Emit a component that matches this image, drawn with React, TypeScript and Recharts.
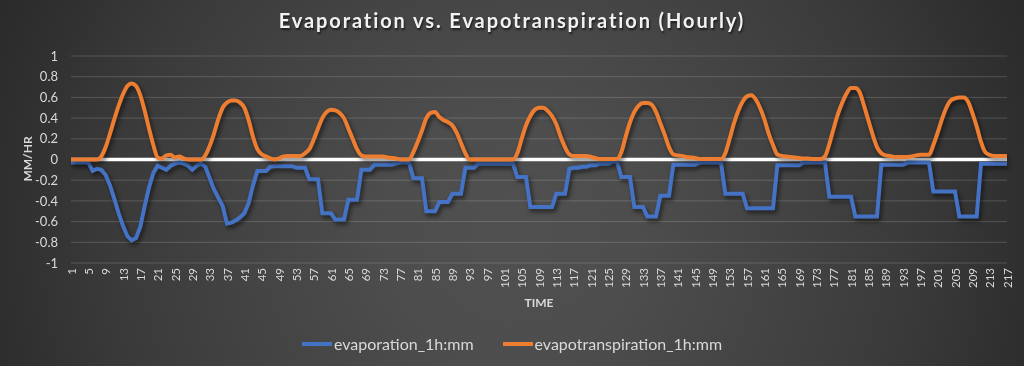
import { LineChart, Line, XAxis, YAxis, CartesianGrid, ReferenceLine } from "recharts";

// hourly steps 1..217
const hours = Array.from({ length: 217 }, (_, i) => String(i + 1));

// evaporation_1h:mm (plotted negative)
const evaporation = [
  -0.03, -0.03, -0.03, -0.03, -0.03, -0.11, -0.09, -0.1, -0.15, -0.25,
  -0.38, -0.52, -0.64, -0.74, -0.78, -0.76, -0.65, -0.45, -0.27, -0.13,
  -0.06, -0.08, -0.1, -0.06, -0.04, -0.03, -0.04, -0.06, -0.1, -0.06,
  -0.04, -0.07, -0.18, -0.29, -0.37, -0.45, -0.62, -0.61, -0.59, -0.56,
  -0.52, -0.42, -0.25, -0.11, -0.11, -0.11, -0.07, -0.065, -0.065, -0.065,
  -0.065, -0.065, -0.08, -0.08, -0.08, -0.19, -0.19, -0.19, -0.52, -0.52,
  -0.52, -0.58, -0.58, -0.58, -0.39, -0.39, -0.39, -0.1, -0.1, -0.1,
  -0.05, -0.05, -0.05, -0.05, -0.05, -0.04, -0.03, -0.03, -0.03, -0.18,
  -0.18, -0.18, -0.5, -0.5, -0.5, -0.41, -0.41, -0.41, -0.33, -0.33,
  -0.33, -0.08, -0.08, -0.08, -0.04, -0.04, -0.04, -0.04, -0.04, -0.04,
  -0.04, -0.04, -0.04, -0.17, -0.17, -0.17, -0.46, -0.46, -0.46, -0.46,
  -0.46, -0.46, -0.33, -0.33, -0.33, -0.09, -0.08, -0.08, -0.07, -0.07,
  -0.055, -0.055, -0.04, -0.04, -0.04, -0.02, -0.02, -0.17, -0.17, -0.17,
  -0.46, -0.46, -0.46, -0.55, -0.55, -0.55, -0.35, -0.35, -0.35, -0.05,
  -0.05, -0.05, -0.05, -0.05, -0.05, -0.03, -0.03, -0.03, -0.03, -0.03,
  -0.03, -0.33, -0.33, -0.33, -0.33, -0.33, -0.47, -0.47, -0.47, -0.47,
  -0.47, -0.47, -0.47, -0.055, -0.055, -0.055, -0.055, -0.055, -0.055, -0.03,
  -0.03, -0.03, -0.03, -0.03, -0.03, -0.36, -0.36, -0.36, -0.36, -0.36,
  -0.36, -0.55, -0.55, -0.55, -0.55, -0.55, -0.55, -0.05, -0.05, -0.05,
  -0.05, -0.05, -0.05, -0.03, -0.03, -0.03, -0.03, -0.03, -0.03, -0.31,
  -0.31, -0.31, -0.31, -0.31, -0.31, -0.55, -0.55, -0.55, -0.55, -0.55,
  -0.04, -0.04, -0.04, -0.04, -0.04, -0.04, -0.04,
];

// evapotranspiration_1h:mm
const evapotranspiration = [
  0, 0, 0, 0, 0, 0, 0, 0.03, 0.12, 0.25,
  0.39, 0.52, 0.63, 0.71, 0.735, 0.71, 0.62, 0.47, 0.3, 0.14,
  0.02, 0.01, 0.04, 0.045, 0.02, 0.03, 0.01, 0, 0, 0,
  0, 0.04, 0.13, 0.25, 0.39, 0.5, 0.55, 0.57, 0.57, 0.55,
  0.5, 0.38, 0.22, 0.1, 0.05, 0.03, 0.01, 0, 0.01, 0.03,
  0.035, 0.035, 0.035, 0.035, 0.06, 0.1, 0.19, 0.3, 0.4, 0.46,
  0.48, 0.475, 0.45, 0.4, 0.3, 0.2, 0.1, 0.04, 0.03, 0.03,
  0.03, 0.03, 0.03, 0.02, 0.015, 0.01, 0, 0, 0, 0.07,
  0.17, 0.28, 0.4, 0.45, 0.46, 0.41, 0.38, 0.36, 0.33, 0.26,
  0.16, 0.06, 0, 0, 0, 0, 0, 0, 0, 0,
  0, 0, 0, 0.06, 0.2, 0.33, 0.42, 0.48, 0.5, 0.5,
  0.47, 0.42, 0.34, 0.22, 0.12, 0.05, 0.035, 0.035, 0.035, 0.035,
  0.025, 0.015, 0.005, 0.005, 0.005, 0.005, 0.005, 0.07, 0.22, 0.36,
  0.46, 0.52, 0.545, 0.545, 0.53, 0.46, 0.35, 0.24, 0.12, 0.05,
  0.04, 0.035, 0.025, 0.02, 0.015, 0.005, 0.005, 0.005, 0.005, 0.005,
  0.005, 0.06, 0.2, 0.35, 0.47, 0.56, 0.61, 0.62, 0.58, 0.5,
  0.39, 0.25, 0.14, 0.05, 0.035, 0.03, 0.025, 0.02, 0.015, 0.01,
  0.01, 0.005, 0.005, 0.005, 0.03, 0.15, 0.3, 0.44, 0.55, 0.64,
  0.69, 0.69, 0.65, 0.52, 0.38, 0.24, 0.12, 0.06, 0.04, 0.035,
  0.025, 0.025, 0.025, 0.025, 0.03, 0.04, 0.045, 0.045, 0.045, 0.14,
  0.26, 0.39, 0.5, 0.57, 0.59, 0.6, 0.6, 0.56, 0.45, 0.32,
  0.17, 0.07, 0.045, 0.035, 0.035, 0.035, 0.035,
];

const yTicks = [-1, -0.8, -0.6, -0.4, -0.2, 0, 0.2, 0.4, 0.6, 0.8, 1];

const data = hours.map((h, i) => ({
  hour: h,
  evaporation: evaporation[i],
  evapotranspiration: evapotranspiration[i],
}));

const BLUE = "#4472C4";
const ORANGE = "#ED7D31";
const TEXT = "#d9d9d9";
const FONT = "Lato, 'Open Sans', sans-serif";

function TimeTick({ x, y, payload }: any) {
  return (
    <text
      x={x}
      y={y}
      transform={`rotate(-90, ${x}, ${y})`}
      textAnchor="end"
      dominantBaseline="central"
      fill={TEXT}
      fontSize={11.5}
      fontFamily={FONT}
    >
      {payload.value}
    </text>
  );
}

export default function App() {
  return (
    <div
      style={{
        position: "fixed",
        left: 0,
        top: 0,
        width: 1024,
        height: 366,
        overflow: "hidden",
        fontFamily: FONT,
        background:
          "radial-gradient(circle at 50% 64%, #505050 0px, #4d4d4d 130px, #484848 200px, #444444 265px, #3f3f3f 330px, #3a3a3a 400px, #333333 470px, #2c2c2c 540px, #262626 620px, #222222 720px)",
      }}
    >
      <style>{`.recharts-line-curve { filter: drop-shadow(2px 3px 2px rgba(0,0,0,0.55)); }`}</style>
      <div
        style={{
          position: "absolute",
          top: 8,
          left: 0,
          width: 1024,
          textAlign: "center",
          color: "#f2f2f2",
          fontSize: 20,
          fontWeight: 700,
          letterSpacing: 1.9,
          textShadow: "1px 2px 2px rgba(0,0,0,0.6)",
        }}
      >
        Evaporation vs. Evapotranspiration (Hourly)
      </div>
      <div
        style={{
          position: "absolute",
          left: 27,
          top: 159,
          transform: "translate(-50%, -50%) rotate(-90deg)",
          color: TEXT,
          fontSize: 12,
          fontWeight: 700,
          whiteSpace: "nowrap",
        }}
      >
        MM/HR
      </div>
      <div
        style={{
          position: "absolute",
          left: 539,
          top: 302,
          transform: "translate(-50%, -50%)",
          color: TEXT,
          fontSize: 12,
          fontWeight: 700,
        }}
      >
        TIME
      </div>
      <div style={{ position: "absolute", top: 0, left: 0 }}>
        <LineChart
          width={1024}
          height={366}
          data={data}
          margin={{ top: 56, right: 17, bottom: 63, left: 0 }}
        >
          <CartesianGrid vertical={false} stroke="rgba(255,255,255,0.17)" strokeWidth={1} />
          <XAxis
            dataKey="hour"
            interval={3}
            height={40}
            axisLine={false}
            tickLine={false}
            tickSize={0}
            tickMargin={5}
            tick={<TimeTick />}
          />
          <YAxis
            domain={[-1, 1]}
            ticks={yTicks}
            interval={0}
            width={71}
            axisLine={false}
            tickLine={false}
            tickSize={0}
            tickMargin={13}
            tick={{ fill: TEXT, fontSize: 13, fontFamily: FONT }}
            tickFormatter={(v) => String(v)}
          />
          <ReferenceLine y={0} stroke="#ffffff" strokeWidth={3.5} />
          <Line
            type="linear"
            dataKey="evaporation"
            stroke={BLUE}
            strokeWidth={4}
            dot={false}
            isAnimationActive={false}
          />
          <Line
            type="monotone"
            dataKey="evapotranspiration"
            stroke={ORANGE}
            strokeWidth={4}
            dot={false}
            isAnimationActive={false}
          />
        </LineChart>
      </div>
      <div
        style={{
          position: "absolute",
          top: 334,
          left: 0,
          width: 1024,
          display: "flex",
          justifyContent: "center",
          alignItems: "center",
          color: TEXT,
          fontSize: 16,
          gap: 29,
        }}
      >
        {[
          { label: "evaporation_1h:mm", color: BLUE },
          { label: "evapotranspiration_1h:mm", color: ORANGE },
        ].map((s) => (
          <div key={s.label} style={{ display: "flex", alignItems: "center" }}>
            <span
              style={{
                display: "inline-block",
                width: 30,
                height: 4,
                background: s.color,
                marginRight: 2,
              }}
            />
            <span>{s.label}</span>
          </div>
        ))}
      </div>
    </div>
  );
}
